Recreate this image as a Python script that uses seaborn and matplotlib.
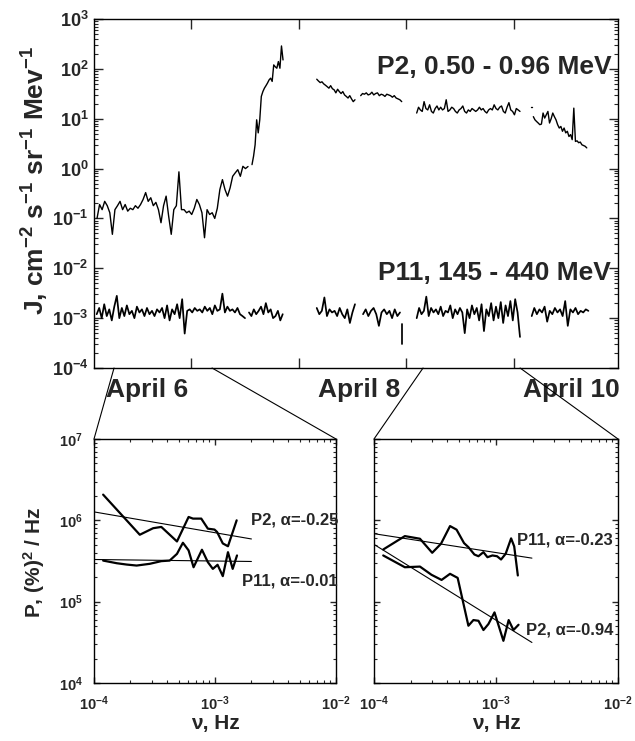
import numpy as np
import pandas as pd
import seaborn as sns
import matplotlib.pyplot as plt
from matplotlib.ticker import FixedLocator, LogFormatterMathtext, NullFormatter
from matplotlib.patches import ConnectionPatch

sns.set_theme(style="ticks")
plt.rcParams['font.family'] = ['Liberation Sans', 'DejaVu Sans']
plt.rcParams['font.weight'] = 'bold'
plt.rcParams['mathtext.fontset'] = 'custom'
plt.rcParams['mathtext.rm'] = 'Liberation Sans:bold'
plt.rcParams['mathtext.it'] = 'Liberation Sans:bold'
plt.rcParams['mathtext.bf'] = 'Liberation Sans:bold'
plt.rcParams['mathtext.default'] = 'bf'

# ---- top panel: fluxes (day of April, J) ----
# P2 0.50-0.96 MeV, segments between data gaps
p2_seg1a = [0.10, 0.19, 0.15, 0.22, 0.18, 0.13, 0.048, 0.15, 0.18, 0.22,
            0.15, 0.19, 0.14, 0.16, 0.15, 0.18, 0.16, 0.19, 0.24, 0.33,
            0.22, 0.26, 0.18, 0.21, 0.15, 0.082, 0.18, 0.28, 0.11, 0.048,
            0.15, 0.18, 0.86, 0.15, 0.15, 0.13, 0.14, 0.12, 0.16, 0.24,
            0.19, 0.13, 0.041, 0.15, 0.12, 0.13, 0.10, 0.16, 0.38, 0.60,
            0.38, 0.28, 0.41, 0.70, 0.82, 0.95, 0.70, 1.11, 1.0, 1.1]
p2_seg1b = [1.2, 1.77, 3.0, 9.5, 5.2, 9.5, 28, 35, 41, 46, 52, 60, 65, 56,
            120, 110, 103, 140, 103, 288, 151]
p2_seg2 = [62, 57, 53, 55, 50, 47, 44, 41, 46, 40, 38, 33, 39, 35, 32, 35,
           30, 28, 26, 29, 25, 22, 24]
p2_seg3 = [29, 32, 31, 33, 30, 31, 34, 30, 32, 33, 29, 31, 30, 28, 31, 30,
           29, 27, 29, 26, 25, 24, 22]
p2_seg4 = [13, 17, 15, 14, 22, 16, 15, 19, 14, 13, 16, 18, 15, 17, 15, 16,
           24, 14, 15, 17, 16, 14, 13, 15, 16, 18, 14, 13, 15, 14, 16, 15,
           14, 15, 17, 15, 16, 14, 13, 15, 16, 15, 19, 16, 15, 17, 18, 14,
           13, 17, 21, 15, 14, 12, 16, 15, 14]
p2_dot = [16.8, 16.8]
p2_seg5 = [11, 9.5, 8.8, 8.2, 7.6, 7.8, 13, 10.3, 12, 14, 8.2, 10, 13, 11,
           9.5, 7.6, 6.5, 7.0, 5.6, 6.5, 5.2, 5.6, 4.4, 4.8, 3.8, 16.3, 3.5,
           3.6, 3.3, 3.4, 3.0, 2.9, 2.8, 2.6]
p2_spans = [(5.128, 6.530), (6.567, 6.855), (7.168, 7.523), (7.576, 7.957),
            (8.096, 9.055), (9.160, 9.170), (9.179, 9.675)]

# P11 145-440 MeV, values in units of 1e-3
p11_segA = [1.2, 1.6, 1.0, 1.9, 1.1, 1.5, 0.9, 1.7, 2.8, 1.0,
            1.6, 1.1, 1.8, 1.2, 1.4, 1.0, 1.7, 1.3, 1.5, 1.1,
            1.6, 1.2, 1.4, 1.1, 1.5, 1.3, 1.6, 1.0, 1.8, 0.9,
            1.5, 1.2, 1.9, 1.0, 2.4, 0.49,
            1.4, 1.5, 1.3, 1.6, 1.4, 1.5, 1.3, 1.7, 1.4, 1.6,
            1.2, 1.8, 1.4, 1.5, 3.1, 1.3, 1.7, 1.4, 1.5, 1.3,
            1.6, 1.2, 1.1, 1.0]
p11_segC = [1.3, 1.1, 1.5, 1.2, 1.4, 1.7, 1.2, 2.0, 1.3, 1.5, 1.0, 1.1, 1.4,
            0.9, 1.2]
p11_segD = [1.6, 1.2, 1.4, 2.6, 1.1, 1.5, 1.3, 1.4, 1.1, 1.6, 1.2, 1.0, 1.5,
            0.8, 1.3, 1.9]
p11_segE = [1.2, 1.5, 1.1, 1.4, 1.6, 1.2, 0.7, 1.3, 1.5, 1.2, 1.4, 1.0, 1.5,
            1.1, 1.3]
p11_drop = [0.76, 0.31]
p11_segF = [1.0, 1.6, 1.2, 1.4, 2.7, 1.1, 1.6, 1.3, 1.5, 1.2,
            1.7, 1.1, 1.4, 1.3, 1.8, 1.0, 1.5, 1.2, 1.6, 1.3,
            0.5, 1.5, 1.0, 1.8, 1.2, 1.6, 0.9, 1.9, 0.55, 1.5,
            1.1, 2.0, 0.9, 1.7, 1.0, 2.1, 0.8, 1.8, 1.1, 2.2,
            0.9, 2.4, 1.3, 0.42]
p11_segG = [1.1, 1.6, 1.2, 1.5, 1.3, 1.7, 0.85, 1.4, 1.2, 1.6, 1.3, 1.5, 1.1,
            2.2, 0.7, 1.5, 1.3, 1.6, 1.2, 1.4, 1.3, 1.5, 1.4]
p11_spans = [(5.125, 6.502), (6.539, 6.852), (7.168, 7.523), (7.598, 7.941),
             (7.957, 7.957), (8.096, 9.055), (9.164, 9.690)]

day_ticks = [6, 7, 8, 9]
day_label_pos = [5.59, 7.56, 9.53]
day_labels = ['April 6', 'April 8', 'April 10']
zoom_left = (5.286, 6.196)
zoom_right = (8.155, 9.056)

# ---- bottom panels: power spectra (Hz, (%)^2/Hz) ----
nu_p2_a = [1.19e-4, 2.39e-4, 3.08e-4, 3.60e-4, 4.85e-4, 6.05e-4, 6.58e-4,
           7.70e-4, 8.73e-4, 9.90e-4, 1.04e-3, 1.16e-3, 1.28e-3, 1.51e-3]
pw_p2_a = [2.07e6, 6.65e5, 8.0e5, 8.3e5, 5.5e5, 1.10e6, 1.05e6, 1.05e6,
           7.9e5, 7.7e5, 7.2e5, 5.2e5, 4.8e5, 1.0e6]
nu_p11_a = [1.19e-4, 1.54e-4, 1.86e-4, 2.25e-4, 2.89e-4, 3.60e-4, 4.22e-4,
            4.85e-4, 5.43e-4, 6.05e-4, 6.65e-4, 7.80e-4, 8.73e-4, 9.60e-4,
            1.05e-3, 1.16e-3, 1.28e-3, 1.40e-3, 1.52e-3]
pw_p11_a = [3.2e5, 2.97e5, 2.86e5, 2.78e5, 2.92e5, 3.15e5, 3.2e5, 3.87e5,
            5.3e5, 4.27e5, 2.65e5, 4.35e5, 3.06e5, 2.53e5, 2.84e5, 2.06e5,
            4.06e5, 2.53e5, 3.7e5]
fit_nu_a = [1e-4, 2e-3]
fit_p2_a = [1.27e6, 5.9e5]
fit_p11_a = [3.3e5, 3.12e5]

nu_p11_b = [1.19e-4, 1.79e-4, 2.38e-4, 3.00e-4, 3.54e-4, 4.20e-4, 4.75e-4,
            5.47e-4, 5.94e-4, 6.65e-4, 7.18e-4, 7.89e-4, 8.51e-4, 9.35e-4,
            1.02e-3, 1.10e-3, 1.20e-3, 1.33e-3, 1.41e-3, 1.51e-3]
pw_p11_b = [4.38e5, 6.4e5, 5.94e5, 3.99e5, 5.15e5, 8.5e5, 7.68e5, 5.25e5,
            4.68e5, 3.80e5, 3.62e5, 4.06e5, 3.52e5, 3.70e5, 3.62e5, 3.30e5,
            3.88e5, 6.0e5, 4.78e5, 2.10e5]
nu_p2_b = [1.19e-4, 1.79e-4, 2.38e-4, 2.96e-4, 3.58e-4, 4.20e-4, 4.85e-4,
           5.94e-4, 6.53e-4, 7.18e-4, 7.89e-4, 8.67e-4, 9.72e-4, 1.15e-3,
           1.27e-3, 1.39e-3, 1.53e-3]
pw_p2_b = [3.70e5, 2.65e5, 2.70e5, 2.14e5, 1.85e5, 2.20e5, 1.96e5, 5.06e4,
           5.94e4, 5.82e4, 4.48e4, 5.31e4, 7.38e4, 3.30e4, 5.94e4, 4.48e4,
           5.20e4]
fit_nu_b = [1e-4, 1.97e-3]
fit_p11_b = [6.85e5, 3.43e5]
fit_p2_b = [5.06e5, 3.15e4]


def segments_frame(segs, spans, scale=1.0):
    frames = []
    for i, (vals, (t0, t1)) in enumerate(zip(segs, spans)):
        frames.append(pd.DataFrame({'t': np.linspace(t0, t1, len(vals)),
                                    'v': np.array(vals) * scale, 'seg': i}))
    return pd.concat(frames, ignore_index=True)


W, H = 635, 741
fig = plt.figure(figsize=(W / 100, H / 100), dpi=100)


def box(l, t, r, b):
    return [l / W, 1 - b / H, (r - l) / W, (b - t) / H]


ax = fig.add_axes(box(94, 19, 618, 368))
ax_a = fig.add_axes(box(94, 439, 336, 683))
ax_b = fig.add_axes(box(374, 439, 618, 683))

# top panel
df_p2 = segments_frame([p2_seg1a, p2_seg1b, p2_seg2, p2_seg3, p2_seg4, p2_dot, p2_seg5], p2_spans)
df_p11 = segments_frame([p11_segA, p11_segC, p11_segD, p11_segE, p11_drop, p11_segF, p11_segG],
                        p11_spans, 1e-3)
sns.lineplot(data=df_p2, x='t', y='v', units='seg', estimator=None, sort=False,
             color='black', lw=1.0, ax=ax)
sns.lineplot(data=df_p11, x='t', y='v', units='seg', estimator=None, sort=False,
             color='black', lw=1.25, ax=ax)
ax.set_yscale('log')
ax.set_ylim(1e-4, 1e3)
ax.set_xlim(5.1, 9.965)
ax.set_xlabel('')
ax.set_ylabel('')
ax.xaxis.set_major_locator(FixedLocator(day_label_pos))
ax.set_xticklabels(day_labels, fontsize=19, fontweight='bold')
ax.xaxis.set_minor_locator(FixedLocator(day_ticks))
ax.tick_params(axis='x', which='major', length=0, pad=7)
ax.tick_params(axis='x', which='minor', length=7, width=1, direction='in', top=True, bottom=True)
ax.tick_params(axis='y', which='major', length=6.5, width=1, direction='in', left=True, right=True,
               labelsize=13, pad=4)
ax.tick_params(axis='y', which='minor', length=3, width=0.8, direction='in', left=True, right=True)
ax.yaxis.set_major_formatter(LogFormatterMathtext())
ax.yaxis.set_minor_formatter(NullFormatter())
ax.text(0.987, 0.862, 'P2, 0.50 - 0.96 MeV', transform=ax.transAxes, ha='right', va='center',
        fontsize=19, fontweight='bold')
ax.text(0.987, 0.272, 'P11, 145 - 440 MeV', transform=ax.transAxes, ha='right', va='center',
        fontsize=19, fontweight='bold')
fig.text(35 / W, 1 - 180 / H, r'J, cm$^{-2}$ s$^{-1}$ sr$^{-1}$ Mev$^{-1}$', rotation=90,
         ha='center', va='center', fontsize=19, fontweight='bold')

# spectra
spectra = [
    (ax_a, [(nu_p2_a, pw_p2_a), (nu_p11_a, pw_p11_a)],
     [(fit_nu_a, fit_p2_a), (fit_nu_a, fit_p11_a)],
     [('P2, α=-0.25', 1.008, 0.668), ('P11, α=-0.01', 1.008, 0.418)]),
    (ax_b, [(nu_p11_b, pw_p11_b), (nu_p2_b, pw_p2_b)],
     [(fit_nu_b, fit_p11_b), (fit_nu_b, fit_p2_b)],
     [('P11, α=-0.23', 0.980, 0.586), ('P2, α=-0.94', 0.980, 0.217)]),
]
for a, curves, fits, labels in spectra:
    for nu, pw in curves:
        sns.lineplot(x=nu, y=pw, sort=False, estimator=None, color='black', lw=1.6, ax=a)
    for nu, pw in fits:
        sns.lineplot(x=nu, y=pw, sort=False, estimator=None, color='black', lw=0.8, ax=a)
    for txt, lx, ly in labels:
        a.text(lx, ly, txt, transform=a.transAxes, ha='right', va='center',
               fontsize=12, fontweight='bold')
    a.set_xscale('log')
    a.set_yscale('log')
    a.set_xlim(1e-4, 1e-2)
    a.set_ylim(1e4, 1e7)
    a.tick_params(which='major', length=4.5, width=1, direction='in', top=True, right=True,
                  labelsize=10.5)
    a.tick_params(which='minor', length=2.5, width=0.8, direction='in', top=True, right=True)
    a.tick_params(axis='x', pad=8)
    a.tick_params(axis='y', pad=8)
    a.xaxis.set_major_formatter(LogFormatterMathtext())
    a.yaxis.set_major_formatter(LogFormatterMathtext())
    a.xaxis.set_minor_formatter(NullFormatter())
    a.yaxis.set_minor_formatter(NullFormatter())
    a.set_xlabel('ν, Hz', fontsize=15, fontweight='bold', labelpad=1)
    a.set_ylabel('')
ax_b.set_yticklabels([])
fig.text(34 / W, 1 - 562 / H, r'P, (%)$^{2}$ / Hz', rotation=90, ha='center', va='center',
         fontsize=15, fontweight='bold')

for a in (ax, ax_a, ax_b):
    for s in a.spines.values():
        s.set_linewidth(1.0)
        s.set_color('black')
        s.set_visible(True)

# connector lines from the time intervals to the spectra
for (t0, t1), a in ((zoom_left, ax_a), (zoom_right, ax_b)):
    for t, corner in ((t0, (0, 1)), (t1, (1, 1))):
        con = ConnectionPatch(xyA=(t, 0), coordsA=ax.get_xaxis_transform(),
                              xyB=corner, coordsB=a.transAxes, color='black', lw=0.8)
        fig.add_artist(con)

fig.savefig('out.png', dpi=100)
